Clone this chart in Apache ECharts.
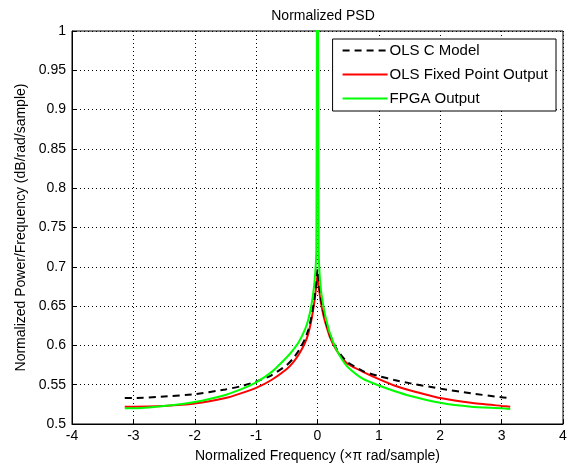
<!DOCTYPE html>
<html><head><meta charset="utf-8">
<script src="https://cdn.jsdelivr.net/npm/echarts@6/dist/echarts.min.js"></script>
<style>html,body{margin:0;padding:0;background:#fff}#c{width:573px;height:468px}</style>
</head><body><div id="c"></div>
<script>
const freqs = [-3.14,-3,-2.5,-2,-1.5,-1.25,-1,-0.75,-0.5,-0.4,-0.3,-0.2,-0.15,-0.1,-0.05,-0.02,0,0.02,0.05,0.1,0.15,0.2,0.3,0.4,0.5,0.75,1,1.25,1.5,2,2.5,3,3.14];
const cModel = [0.533,0.533,0.535,0.538,0.544,0.548,0.554,0.562,0.575,0.583,0.594,0.609,0.62,0.636,0.66,0.68,0.697,0.68,0.662,0.642,0.627,0.614,0.597,0.586,0.578,0.567,0.561,0.556,0.552,0.545,0.539,0.534,0.533];
const fixedPoint = [0.522,0.522,0.523,0.526,0.533,0.539,0.546,0.556,0.570,0.578,0.589,0.604,0.615,0.632,0.656,0.675,0.690,0.675,0.657,0.637,0.623,0.611,0.595,0.584,0.576,0.566,0.557,0.549,0.543,0.533,0.527,0.523,0.522];
const fpga = [0.520,0.520,0.523,0.528,0.537,0.544,0.553,0.566,0.585,0.594,0.605,0.621,0.633,0.651,0.68,0.72,1.3,0.72,0.675,0.648,0.63,0.616,0.596,0.582,0.572,0.557,0.549,0.542,0.536,0.527,0.522,0.520,0.519];
const names = ['OLS C Model','OLS Fixed Point Output','FPGA Output'];
const toPts = a => freqs.map((f,i)=>[f,a[i]]);
const font = 'Liberation Sans, Arial, sans-serif';
const chart = echarts.init(document.getElementById('c'));
chart.setOption({
  animation:false,
  backgroundColor:'#fff',
  title:{text:'Normalized PSD',left:318,textAlign:'center',top:4,textStyle:{fontFamily:font,fontSize:14,fontWeight:'normal',color:'#000'}},
  grid:{left:72,right:10,top:31,bottom:42,show:true,borderColor:'#000',borderWidth:1,backgroundColor:'#fff'},
  legend:{orient:'vertical',right:17,top:39,itemWidth:45,itemHeight:14,itemGap:9,padding:[4,8,5,9],
    backgroundColor:'#fff',borderColor:'#000',borderWidth:1,borderRadius:0,
    itemStyle:{opacity:0},
    textStyle:{fontFamily:font,fontSize:15,color:'#000',padding:[0,0,0,-3]},data:names},
  xAxis:{type:'value',min:-4,max:4,interval:1,
    name:'Normalized Frequency (×π rad/sample)',nameLocation:'middle',nameGap:25,
    nameTextStyle:{fontFamily:font,fontSize:14,color:'#000'},
    axisLine:{onZero:false,lineStyle:{color:'#000'}},axisTick:{inside:true,length:4,lineStyle:{color:'#000'}},
    axisLabel:{fontFamily:font,fontSize:14,color:'#000',margin:5},
    splitLine:{show:true,lineStyle:{type:[1,3],color:'#000',width:1}}},
  yAxis:{type:'value',min:0.5,max:1,interval:0.05,
    name:'Normalized Power/Frequency (dB/rad/sample)',nameLocation:'middle',nameGap:43,
    nameTextStyle:{fontFamily:font,fontSize:14,color:'#000'},
    axisLine:{show:true,onZero:false,lineStyle:{color:'#000'}},axisTick:{show:true,inside:true,length:4,lineStyle:{color:'#000'}},
    axisLabel:{fontFamily:font,fontSize:14,color:'#000',margin:6,formatter:v=>String(+v.toFixed(2))},
    splitLine:{show:true,lineStyle:{type:[1,3],color:'#000',width:1}}},
  series:[
    {name:names[0],type:'line',data:toPts(cModel),symbol:'none',clip:true,z:3,smooth:0.2,
      lineStyle:{color:'#000',width:2,type:[7,5]},itemStyle:{color:'#000'}},
    {name:names[1],type:'line',data:toPts(fixedPoint),symbol:'none',clip:true,z:2,smooth:0.2,
      lineStyle:{color:'#ff0000',width:2},itemStyle:{color:'#ff0000'}},
    {name:names[2],type:'line',data:toPts(fpga),symbol:'none',clip:true,z:4,smooth:0.2,
      lineStyle:{color:'#00ff00',width:2},itemStyle:{color:'#00ff00'}}
  ]
});
</script></body></html>
